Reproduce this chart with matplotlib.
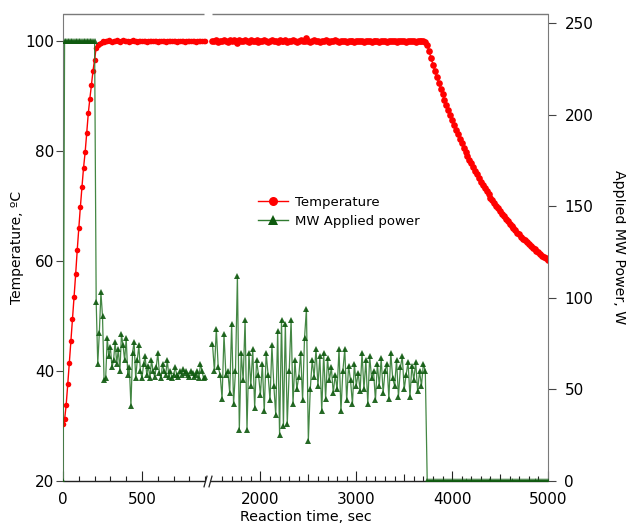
import numpy as np
import matplotlib
matplotlib.use("Agg")
import matplotlib.pyplot as plt
from matplotlib.lines import Line2D
from matplotlib.path import Path
from matplotlib.ticker import FixedLocator, FixedFormatter

# ---------------- data ----------------
# left segment of the broken time axis: 0-900 s, sampled every 10 s
t_left = list(range(0, 901, 10))
temp_left = [
    30.4, 31.2, 33.8, 37.6, 41.5, 45.5, 49.5, 53.5, 57.6, 62.0,
    66.0, 69.9, 73.5, 77.0, 79.8, 83.3, 86.9, 89.6, 92.1, 94.7,
    96.7, 98.9,
    99.3, 99.6, 99.8, 100.0, 99.9, 100.1, 100.0, 100.2, 100.0, 99.9,
    100.1, 100.0, 100.2, 100.1, 99.9, 100.0, 100.2, 100.1, 100.0, 100.1,
    99.9, 100.1, 100.2, 100.0, 100.1, 99.9, 100.0, 100.1, 100.0, 100.1,
    100.0, 99.9, 100.1, 100.0, 100.1, 100.0, 100.0, 100.1, 99.9, 100.0,
    100.1, 100.0, 100.0, 99.9, 100.0, 100.1, 100.0, 100.0, 100.1, 100.0,
    99.9, 100.0, 100.0, 100.1, 100.0, 99.9, 100.0, 100.0, 100.1, 100.0,
    100.0, 100.0, 99.9, 100.0, 100.0, 100.1, 100.0, 100.0, 100.0,
]
power_left = [0] + [240] * 20 + [
    98, 64, 81, 103, 90, 55, 56, 78, 68, 73,
    62, 66, 76, 64, 72, 60, 80, 74, 66, 78,
    58, 62, 41, 70, 76, 56, 66, 74, 60, 56,
    64, 68, 58, 63, 56, 66, 60, 57, 62, 70,
    59, 56, 64, 60, 58, 66, 57, 60, 56, 58,
    62, 58, 57, 60, 58, 61, 59, 60, 58, 57,
    60, 59, 57, 58, 60, 56, 64, 60, 56, 57,
]

# right segment: 1500-3720 s (power on), sampled every 20 s
t_right = list(range(1500, 3721, 20))
temp_right = [
    100.1, 100.0, 100.2, 99.9, 100.1, 100.0, 100.3, 100.1, 99.9, 100.2,
    100.0, 100.2, 100.1, 99.8, 100.2, 100.0, 100.1, 100.3, 100.0, 99.9,
    100.2, 100.1, 100.0, 100.2, 99.9, 100.1, 100.0, 100.2, 100.1, 99.9,
    100.1, 100.3, 100.0, 100.1, 99.9, 100.2, 100.0, 100.1, 100.2, 99.9,
    100.1, 100.0, 100.2, 100.1, 99.9, 100.0, 100.2, 100.1, 100.0, 100.6,
    100.1, 99.9, 100.0, 100.2, 100.0, 100.1, 99.9, 100.1, 100.0, 100.2,
    100.0, 99.9, 100.1, 100.0, 100.2, 100.0, 99.9, 100.1, 100.0, 100.1,
    99.9, 100.0, 100.1, 100.0, 99.9, 100.1, 100.0, 100.0, 100.1, 99.9,
    100.0, 100.1, 100.0, 99.9, 100.0, 100.1, 100.0, 99.9, 100.0, 100.1,
    100.0, 99.9, 100.0, 100.1, 100.0, 100.0, 99.9, 100.0, 100.1, 100.0,
    100.0, 99.9, 100.0, 100.0, 100.1, 100.0, 99.9, 100.0, 100.0, 100.1,
    100.0, 99.9,
]
power_right = [
    75, 60, 83, 62, 58, 45, 80, 58, 60, 48,
    86, 42, 60, 112, 28, 70, 55, 88, 28, 70,
    52, 72, 40, 66, 58, 47, 64, 38, 70, 58,
    44, 74, 52, 36, 82, 25, 88, 30, 86, 31,
    60, 88, 42, 66, 50, 57, 70, 44, 78, 94,
    22, 50, 66, 57, 72, 52, 68, 38, 70, 45,
    67, 55, 62, 48, 58, 50, 72, 38, 60, 72,
    44, 63, 55, 42, 64, 52, 59, 49, 70, 50,
    66, 42, 68, 56, 60, 44, 64, 52, 67, 48,
    60, 64, 45, 70, 56, 52, 66, 46, 62, 68,
    50, 58, 65, 46, 63, 55, 65, 49, 60, 52,
    64, 60,
]

# after power off: 3740-5000 s, sampled every 20 s
t_off = list(range(3740, 5001, 20))
temp_cool = [
    99.4, 98.2, 97.0, 95.8, 94.7, 93.6, 92.5, 91.4, 90.4, 89.4,
    88.5, 87.5, 86.6, 85.7, 84.8, 83.9, 83.1, 82.3, 81.5, 80.7,
    79.9, 79.2, 78.5, 77.8, 77.1, 76.4, 75.8, 75.1, 74.5, 73.9,
    73.3, 72.7, 72.2, 71.6, 71.1, 70.6, 70.1, 69.6, 69.1, 68.6,
    68.2, 67.7, 67.3, 66.8, 66.4, 66.0, 65.6, 65.2, 64.9, 64.5,
    64.1, 63.8, 63.5, 63.1, 62.8, 62.5, 62.2, 61.9, 61.6, 61.3,
    61.0, 60.7, 60.5, 60.2,
]
power_off = [0] * len(t_off)

x_major = [0, 500, 2000, 3000, 4000, 5000]
x_major_labels = ["0", "500", "2000", "3000", "4000", "5000"]
x_mid = [2500, 3500, 4500]
x_minor = [v for v in list(range(100, 901, 100)) + list(range(1600, 5000, 100))
           if v not in x_major and v not in x_mid]
y_temp_ticks = [20, 40, 60, 80, 100]
y_pow_ticks = [0, 50, 100, 150, 200, 250]

# ---------------- broken time scale ----------------
L_END, R_START = 905.0, 1495.0
S_L, S_R = 0.158, 0.09586
P_L = L_END * S_L
P_R = 149.0
xp = np.array([-1e6, 0.0, L_END, R_START, 1e6])
fp = np.array([-1e6 * S_L, 0.0, P_L, P_R, P_R + (1e6 - R_START) * S_R])


def fwd(x):
    return np.interp(x, xp, fp)


def inv(p):
    return np.interp(p, fp, xp)


RED = "#ff0000"
GREEN_M = "#0f5a0f"
GREEN_L = "#2f7a2f"
GRAY = "#7a7a7a"

fig = plt.figure(figsize=(6.26, 5.24), dpi=100)
ax = fig.add_axes([0.10064, 0.08206, 0.77476, 0.89122])
ax.set_xscale("function", functions=(fwd, inv))
ax.set_xlim(0, 5000)
ax.set_ylim(20, 105)
ax2 = ax.twinx()
ax2.set_ylim(0, 255)

# temperature
ax.plot(t_left, temp_left, color=RED, lw=1.0, marker="o", ms=4.0, mfc=RED,
        mew=0, zorder=3)
ax.plot(t_right + t_off, temp_right + temp_cool, color=RED, lw=1.0, marker="o",
        ms=4.8, mfc=RED, mew=0, zorder=3)
# power
for tx, ty in ((t_left, power_left), (t_right + t_off, power_right + power_off)):
    ax2.plot(tx, ty, color=GREEN_L, lw=0.9, alpha=0.9, marker="^", ms=4.6,
             mfc=GREEN_M, mec=GREEN_M, mew=0, zorder=3)

# spines
for s in ("top", "bottom", "right"):
    ax.spines[s].set_visible(False)
for s in ("top", "bottom", "left"):
    ax2.spines[s].set_visible(False)
ax.spines["left"].set_color(GRAY)
ax2.spines["right"].set_color(GRAY)
xt = ax.get_xaxis_transform()
for a, b in ((0, 890), (R_START, 5000)):
    ax.plot([a, b], [1, 1], transform=xt, color=GRAY, lw=1.0, clip_on=False,
            solid_capstyle="butt")
for a, b in ((0, 898), (1300, 5000)):
    ax.plot([a, b], [0, 0], transform=xt, color="#222222", lw=1.0,
            clip_on=False, solid_capstyle="butt")
brk = Path([(-0.28, -1.0), (0.28, 1.0)], [Path.MOVETO, Path.LINETO])
ax.plot([898, 1300], [0, 0], transform=xt, ls="none", marker=brk, ms=8.5,
        mec="#222222", mew=0.9, clip_on=False)
# medium ticks
ax.plot(x_mid, [0] * len(x_mid), transform=xt, ls="none", marker=2, ms=5.0,
        mec="#222222", mew=0.8, clip_on=False)

# ticks
ax.xaxis.set_major_locator(FixedLocator(x_major))
ax.xaxis.set_major_formatter(FixedFormatter(x_major_labels))
ax.xaxis.set_minor_locator(FixedLocator(x_minor))
ax.tick_params(axis="x", which="major", direction="in", length=7.2, width=0.8,
               color="#222222", labelsize=11, pad=8.0)
ax.tick_params(axis="x", which="minor", direction="in", length=3.3, width=0.8,
               color="#222222")
ax.set_yticks(y_temp_ticks)
ax.tick_params(axis="y", which="major", direction="out", length=5.4, width=0.8,
               color="#444444", labelsize=11, pad=1.0)
ax2.set_yticks(y_pow_ticks)
ax2.tick_params(axis="y", which="major", direction="out", length=5.8, width=0.8,
                color="#444444", labelsize=11, pad=6.0)

# labels
ax.set_xlabel("Reaction time, sec", fontsize=10.3)
ax.xaxis.set_label_coords(0.5, -0.077)
ax.xaxis.label.set_va("center")
ax.set_ylabel("Temperature, ºC", fontsize=10.0, rotation=90)
ax.yaxis.set_label_coords(-0.0948, 0.5)
ax.yaxis.label.set_rotation_mode("default")
ax.yaxis.label.set_va("center")
ax.yaxis.label.set_ha("center")
ax2.set_ylabel("Applied MW Power, W", fontsize=10.2, rotation=270)
ax2.yaxis.set_label_coords(1.1464, 0.5)
ax2.yaxis.label.set_rotation_mode("default")
ax2.yaxis.label.set_va("center")
ax2.yaxis.label.set_ha("center")

# legend
handles = [
    Line2D([], [], color=RED, lw=1.0, marker="o", ms=6.5, mew=0, mfc=RED),
    Line2D([], [], color=GREEN_L, lw=1.0, marker="^", ms=6.5, mew=0, mfc=GREEN_M),
]
ax2.legend(handles, ["Temperature", "MW Applied power"], loc="upper left",
           bbox_to_anchor=(258 / 626, 1 - 196 / 524),
           bbox_transform=fig.transFigure, frameon=False, fontsize=9.5,
           borderpad=0, borderaxespad=0, handlelength=2.3, handletextpad=0.5,
           labelspacing=0.42)

fig.savefig("out.png", dpi=100)
